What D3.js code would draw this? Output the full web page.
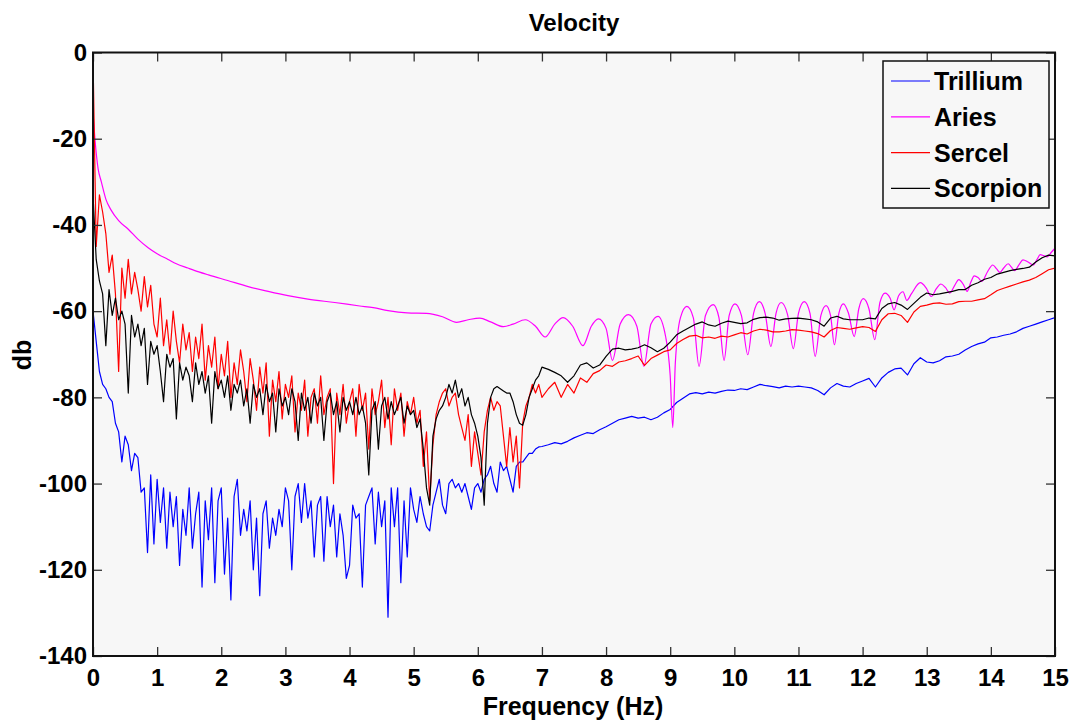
<!DOCTYPE html>
<html>
<head>
<meta charset="UTF-8">
<script src="https://cdn.jsdelivr.net/npm/d3@7"></script>
<title>Velocity</title>
<style>
  body { margin: 0; background: #fff; }
  text { font-family: "Liberation Sans", Arial, sans-serif; font-weight: bold; }
</style>
</head>
<body>
<div id="chart"></div>
<script>
// sampling of the noisy part (0..7 Hz) and of the smooth part (7.1..15 Hz)
const lowStep = 0.05;
const highStart = 7.1;
const highStep = 0.1;

const seriesNames = ["Trillium", "Aries", "Sercel", "Scorpion"];
const xTicks = d3.range(0, 16, 1);
const yTicks = [0, -20, -40, -60, -80, -100, -120, -140];

// Trillium (blue)
const trilliumLow = [
  -60,-67,-74,-77,-78,-80,-81,-86,-88,-95,
  -89,-91,-97,-93,-94,-102,-101,-116,-98,-114,
  -99,-109,-101,-115,-102,-110,-103,-119,-106,-112,
  -101,-115,-107,-102,-124,-104,-113,-101,-123,-104,
  -101,-121,-108,-127,-103,-99,-112,-106,-111,-104,
  -120,-108,-126,-107,-104,-115,-108,-112,-106,-110,
  -101,-104,-120,-103,-100,-109,-100,-108,-104,-117,
  -105,-103,-118,-103,-110,-105,-117,-107,-112,-122,
  -119,-105,-108,-107,-124,-105,-103,-101,-114,-102,
  -110,-104,-131,-101,-110,-101,-123,-104,-117,-101,
  -106,-109,-103,-107,-110,-111,-105,-102,-99,-105,
  -107,-100,-99,-101,-100,-102,-100,-103,-106,-101,
  -100,-102,-99,-98,-96,-100,-102,-95,-97,-96,
  -99,-102,-96,-95,-95,-94,-93,-93,-92,-91.5,
  -91.4
];
const trilliumHigh = [
  -91,-90.5,-90.8,-90.2,-89.4,-88.8,-88.2,-88.4,-87.5,-86.8,
  -86,-85.2,-84.8,-84.4,-84.8,-84.6,-85.2,-84.6,-83.6,-82.8,
  -81.2,-80.2,-79.2,-78.9,-79.2,-78.8,-79,-78.6,-78.3,-78.4,
  -78,-78.2,-77.6,-77,-77.3,-77.5,-77.8,-77.4,-77.6,-77.4,
  -77.6,-77.8,-78.4,-79.4,-77.8,-76.8,-77.4,-77.6,-76.8,-76.2,
  -75.6,-77.6,-75.5,-74.2,-73.4,-73.2,-74.8,-72.2,-70.8,-71.8,
  -72,-71.5,-70.6,-70.4,-70,-69,-68.2,-67.6,-67.2,-66.2,
  -66,-65.6,-65.3,-64.8,-64,-63.5,-63,-62.5,-62,-61.5
];

// Sercel (red)
const sercelLow = [
  -1,-45,-33,-37,-42,-51,-47,-56,-74,-50,
  -57,-48,-56,-51,-55,-60,-52,-59,-54,-63,
  -66,-57,-68,-62,-70,-60,-67,-72,-63,-69,
  -65,-74,-66,-71,-63,-76,-68,-73,-66,-78,
  -70,-75,-67,-80,-72,-77,-69,-74,-81,-71,
  -76,-83,-73,-79,-72,-89,-76,-81,-74,-85,
  -77,-80,-75,-88,-79,-83,-76,-89,-80,-78,
  -86,-75,-84,-80,-78,-100,-79,-84,-77,-86,
  -81,-78,-89,-77,-83,-79,-92,-78,-84,-81,
  -76,-87,-80,-91,-78,-83,-79,-89,-81,-84,
  -80,-86,-83,-96,-88,-104,-91,-84,-81,-79,
  -78,-82,-80,-79,-84,-87,-90,-84,-96,-88,
  -93,-98,-88,-83,-80,-83,-81,-82,-89,-96,
  -87,-95,-89,-101,-86,-82,-80,-77,-79,-77,
  -80
];
const sercelHigh = [
  -78,-76.5,-80,-77,-79,-75.5,-76.5,-74.5,-73.8,-72.5,
  -72.8,-71.8,-71.5,-71,-70.4,-72.6,-71,-70.2,-69.4,-69,
  -67.5,-66.6,-65.8,-65.6,-66.2,-66,-66.3,-65.8,-66,-65.5,
  -65,-65.3,-64.6,-64.2,-64.4,-64.8,-64.8,-64.6,-64.3,-64.4,
  -64.6,-64.8,-65.2,-66,-64.5,-63.8,-64,-64.2,-63.9,-63.6,
  -63.8,-64.7,-62,-60.6,-60.5,-61,-62.6,-60.2,-58.9,-58.6,
  -58.2,-58.1,-58.4,-58.3,-57.8,-57.7,-57.7,-57.4,-57.1,-56.2,
  -55.2,-54.7,-54.2,-53.7,-53.2,-52.8,-52.2,-51.3,-50.4,-50
];

// Scorpion (black)
const scorpionLow = [
  -33,-48,-53,-56,-68,-55,-61,-57,-62,-60,
  -63,-79,-61,-66,-63,-68,-64,-77,-67,-70,
  -68,-74,-81,-70,-73,-71,-85,-72,-76,-73,
  -75,-81,-72,-77,-74,-79,-75,-86,-74,-78,
  -76,-80,-75,-83,-77,-79,-76,-82,-78,-86,
  -77,-80,-78,-84,-77,-81,-79,-88,-78,-82,
  -80,-84,-78,-81,-90,-79,-83,-80,-86,-79,
  -82,-80,-90,-81,-79,-84,-81,-88,-80,-83,
  -81,-84,-80,-84,-82,-86,-98,-83,-81,-92,
  -82,-80,-85,-81,-84,-82,-80,-86,-82,-84,
  -83,-87,-85,-92,-101,-105,-89,-85,-83,-82,
  -80,-77,-79,-76,-80,-78,-82,-80,-84,-86,
  -89,-94,-105,-86,-80,-78,-77.5,-78,-78.5,-79,
  -79,-81,-84,-86,-86.5,-84,-80,-78,-76,-75,
  -73
];
const scorpionHigh = [
  -73.5,-74.2,-75,-76.5,-75,-72.5,-72,-73.2,-72.5,-70.5,
  -68.8,-68.6,-69,-68.8,-68.5,-67.8,-68.5,-69.4,-68.6,-67.2,
  -65.5,-64.6,-63.8,-63,-62.5,-63.2,-63.5,-62.8,-62.3,-62.6,
  -62.9,-62.7,-61.9,-61.5,-61.4,-61.6,-62.1,-61.8,-61.7,-61.6,
  -61.8,-62,-62.5,-63.5,-61.6,-61.2,-61.8,-62,-62,-62,
  -61.6,-61.8,-59.4,-58.3,-58,-58.6,-59.6,-58.2,-56.8,-55.8,
  -56.2,-56,-55.7,-55.4,-55,-55,-54,-53.4,-52.6,-52.2,
  -51.4,-51,-50.6,-50.3,-50.1,-49.8,-48.6,-47.6,-47,-47.2
];

// Aries (magenta), read at its turning points
const ariesFreq = [
  0,0.03,0.08,0.13,0.2,0.28,0.4,0.55,0.7,0.86,1.0,1.17,1.3,1.48,1.65,1.8,2.1,2.42,2.73,3.04,
  3.35,3.77,4.16,4.37,4.6,4.9,5.2,5.45,5.67,5.85,6.03,6.2,6.4,6.55,6.74,6.9,7.05,
  7.2,7.33,7.48,7.64,7.77,7.88,8.0,8.1,8.22,8.35,8.48,8.59,8.7,8.81,8.93,9.0,9.04,9.08,
  9.16,9.26,9.36,9.45,9.55,9.67,9.76,9.84,9.92,10.01,10.11,10.21,10.3,10.39,10.48,10.57,
  10.65,10.73,10.83,10.92,11.0,11.09,11.18,11.26,11.35,11.43,11.5,11.56,11.63,11.7,11.78,11.87,
  11.94,12.01,12.1,12.19,12.27,12.35,12.43,12.49,12.56,12.63,12.69,12.76,12.9,12.99,13.07,
  13.15,13.22,13.29,13.36,13.43,13.5,13.57,13.63,13.69,13.74,13.8,13.86,13.95,14.03,14.09,
  14.14,14.2,14.27,14.32,14.37,14.44,14.5,14.58,14.66,14.72,14.77,14.82,14.88,14.94,15
];
const ariesDb = [
  -14,-20,-27,-30,-34,-36.5,-39,-41,-43.3,-45.3,-46.7,-48,-49,-50,-50.9,-51.6,-52.9,-54.3,-55.4,-56.4,
  -57.2,-58,-58.8,-59.2,-59.9,-60.4,-60.5,-61.3,-62.6,-62,-61.6,-62.5,-63.6,-63,-62,-63.5,-66,
  -63,-61.5,-63.5,-68,-63.5,-61.8,-64,-71.4,-63,-60.8,-63.5,-72.8,-63,-61.2,-66,-75,-87,-72,
  -61.5,-58.9,-61.5,-72.8,-61,-58.5,-61.5,-71.4,-61,-58.3,-61,-70.1,-60.5,-57.8,-60.5,-68.2,
  -60.5,-58,-60.8,-68.7,-60.5,-57.8,-60.5,-70.5,-61,-58.7,-61,-67.8,-60.5,-58.3,-60.5,-65.9,
  -59.5,-57.1,-59.5,-66.6,-58,-55.8,-57,-59.7,-56.5,-55.5,-57.5,-56,-53.4,-54.6,-56.6,
  -54.8,-53.7,-54.5,-55.8,-54.2,-52.7,-53.8,-55.4,-53.2,-51.8,-52.2,-53.1,-50.8,-49.3,-50.2,
  -51,-50,-49,-49.8,-50.6,-49.2,-48.1,-48.6,-49.3,-48,-46.9,-47.1,-47.4,-46.4,-45.4
];

const width = 1075, height = 724;
const plot = { left: 93, right: 1055, top: 52.5, bottom: 656 };

const svg = d3.select("#chart").append("svg")
    .attr("width", width)
    .attr("height", height);

const x = d3.scaleLinear().domain([0, 15]).range([plot.left, plot.right]);
const y = d3.scaleLinear().domain([-140, 0]).range([plot.bottom, plot.top]);

const toPoints = (low, high) =>
    low.map((v, i) => [i * lowStep, v])
       .concat(high.map((v, i) => [highStart + i * highStep, v]));

const series = [
    { name: "Trillium", color: "#0000ff", pts: toPoints(trilliumLow, trilliumHigh), curve: d3.curveLinear },
    { name: "Aries", color: "#ff00ff", pts: ariesFreq.map((f, i) => [f, ariesDb[i]]), curve: d3.curveMonotoneX },
    { name: "Sercel", color: "#ff0000", pts: toPoints(sercelLow, sercelHigh), curve: d3.curveLinear },
    { name: "Scorpion", color: "#000000", pts: toPoints(scorpionLow, scorpionHigh), curve: d3.curveLinear }
];

// plot background
svg.append("rect")
    .attr("x", plot.left).attr("y", plot.top)
    .attr("width", plot.right - plot.left).attr("height", plot.bottom - plot.top)
    .attr("fill", "#f7f7f7");

svg.append("clipPath").attr("id", "clip")
  .append("rect")
    .attr("x", plot.left).attr("y", plot.top)
    .attr("width", plot.right - plot.left).attr("height", plot.bottom - plot.top);

const lines = svg.append("g").attr("clip-path", "url(#clip)");
series.forEach(s => {
    lines.append("path")
        .attr("d", d3.line().x(d => x(d[0])).y(d => y(d[1])).curve(s.curve)(s.pts))
        .attr("fill", "none")
        .attr("stroke", s.color)
        .attr("stroke-width", 1.2)
        .attr("stroke-linejoin", "round");
});

// axes: ticks inside on all four sides, plain hyphen minus like the original
const tickLen = 9;
const plain = d => String(d);
const axisBottom = d3.axisBottom(x).tickValues(xTicks).tickSize(-tickLen).tickPadding(tickLen + 4).tickFormat(plain);
const axisTop = d3.axisTop(x).tickValues(xTicks).tickSize(-tickLen).tickFormat("");
const axisLeft = d3.axisLeft(y).tickValues(yTicks).tickSize(-tickLen).tickPadding(6).tickFormat(plain);
const axisRight = d3.axisRight(y).tickValues(yTicks).tickSize(-tickLen).tickFormat("");

const styleAxis = g => {
    g.select(".domain").remove();
    g.selectAll(".tick line").attr("stroke", "#333").attr("stroke-width", 1.3);
    g.selectAll(".tick text").attr("fill", "#000").style("font-size", "24px")
        .style("font-family", "'Liberation Sans', Arial, sans-serif").style("font-weight", "bold");
};

svg.append("g").attr("transform", `translate(0,${plot.bottom})`).call(axisBottom).call(styleAxis)
    .selectAll(".tick text").attr("dy", "0.72em");
svg.append("g").attr("transform", `translate(0,${plot.top})`).call(axisTop).call(styleAxis);
svg.append("g").attr("transform", `translate(${plot.left},0)`).call(axisLeft).call(styleAxis);
svg.append("g").attr("transform", `translate(${plot.right},0)`).call(axisRight).call(styleAxis);

// frame
svg.append("rect")
    .attr("x", plot.left).attr("y", plot.top)
    .attr("width", plot.right - plot.left).attr("height", plot.bottom - plot.top)
    .attr("fill", "none").attr("stroke", "#111").attr("stroke-width", 2);

// titles
svg.append("text").attr("x", (plot.left + plot.right) / 2).attr("y", 31)
    .attr("text-anchor", "middle").style("font-size", "24px").text("Velocity");
svg.append("text").attr("x", 573).attr("y", 715)
    .attr("text-anchor", "middle").style("font-size", "25px").text("Frequency (Hz)");
svg.append("text").attr("transform", "translate(31,355) rotate(-90)")
    .attr("text-anchor", "middle").style("font-size", "25px").text("db");

// legend
const legend = svg.append("g");
legend.append("rect")
    .attr("x", 883).attr("y", 61).attr("width", 166).attr("height", 147)
    .attr("fill", "#f7f7f7").attr("stroke", "#111").attr("stroke-width", 1.5);
series.forEach((s, i) => {
    const cy = 81 + i * 35.8;
    legend.append("line")
        .attr("x1", 891).attr("x2", 930).attr("y1", cy).attr("y2", cy)
        .attr("stroke", s.color).attr("stroke-width", 1.2);
    legend.append("text")
        .attr("x", 934).attr("y", cy + 9)
        .style("font-size", "25px").text(seriesNames[i]);
});
</script>
</body>
</html>
